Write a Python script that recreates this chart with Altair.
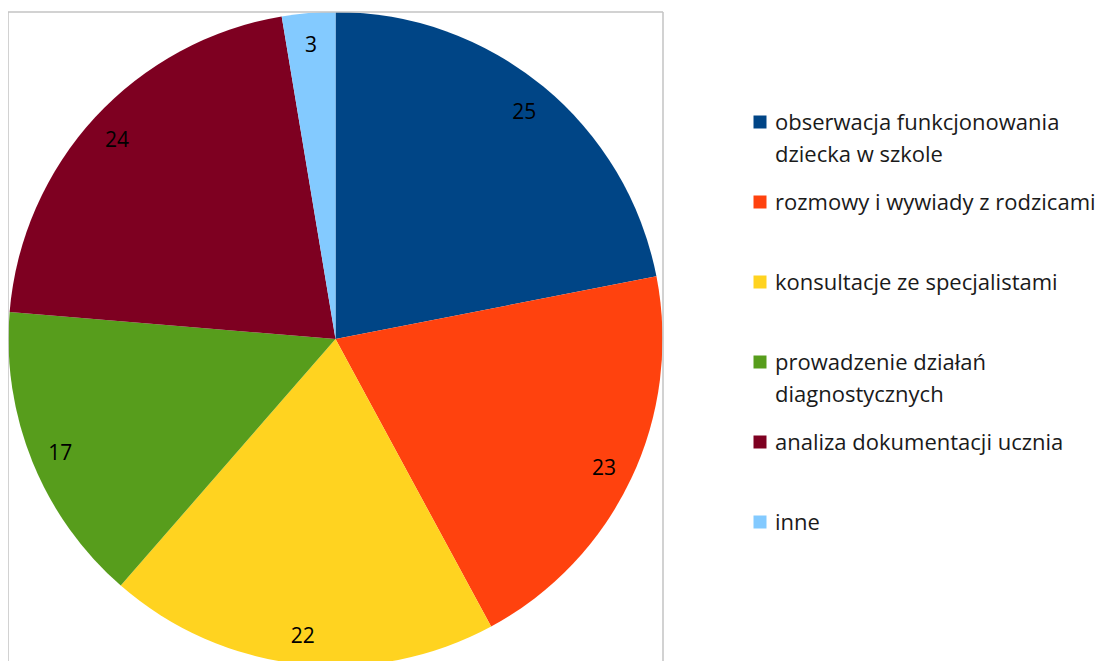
import altair as alt
import pandas as pd

categories = [
    "obserwacja funkcjonowania dziecka w szkole",
    "rozmowy i wywiady z rodzicami",
    "konsultacje ze specjalistami",
    "prowadzenie działań diagnostycznych",
    "analiza dokumentacji ucznia",
    "inne",
]
legend_lines = [
    ["obserwacja funkcjonowania", "dziecka w szkole"],
    ["rozmowy i wywiady z rodzicami"],
    ["konsultacje ze specjalistami"],
    ["prowadzenie działań", "diagnostycznych"],
    ["analiza dokumentacji ucznia"],
    ["inne"],
]
values = [25, 23, 22, 17, 24, 3]
colors = ["#004586", "#ff420e", "#ffd320", "#579d1c", "#7e0021", "#83caff"]

df = pd.DataFrame({
    "kategoria": categories,
    "wartosc": values,
    "idx": list(range(len(categories))),
    "legenda": legend_lines,
})

CX, CY, R = 327.5, 331, 327
FONT = "Open Sans"

color = alt.Color("kategoria:N", scale=alt.Scale(domain=categories, range=colors), legend=None)

base = alt.Chart(df)

pie = base.mark_arc(clip=False).encode(
    theta=alt.Theta("wartosc:Q", stack=True),
    color=color,
    order=alt.Order("idx:Q"),
    x=alt.value(CX), y=alt.value(CY),
    radius=alt.value(R),
)

labels = base.mark_text(font=FONT, fontSize=21, color="#000000", dy=3).encode(
    theta=alt.Theta("wartosc:Q", stack=True),
    order=alt.Order("idx:Q"),
    text="wartosc:Q",
    x=alt.value(CX), y=alt.value(CY),
    radius=alt.value(297),
)

frame_df = pd.DataFrame({"a": [0]})
frame_top = alt.Chart(frame_df).mark_rule(color="#c3c3c3", strokeWidth=1.5).encode(
    x=alt.value(0), x2=alt.value(655), y=alt.value(4))
frame_left = alt.Chart(frame_df).mark_rule(color="#c3c3c3", strokeWidth=1.5).encode(
    x=alt.value(0), y=alt.value(4), y2=alt.value(700))
frame_right = alt.Chart(frame_df).mark_rule(color="#c3c3c3", strokeWidth=1.5).encode(
    x=alt.value(655), y=alt.value(4), y2=alt.value(700))

ypos = alt.Y("idx:Q", scale=alt.Scale(domain=[0, 5], range=[114, 514]), axis=None)

leg_sym = base.mark_square(size=169, opacity=1).encode(
    x=alt.value(752), y=ypos, color=color)

leg_txt = base.mark_text(font=FONT, fontSize=22, align="left", baseline="alphabetic",
                         dy=8, lineHeight=32, color="#1a1a1a").encode(
    x=alt.value(767), y=ypos, text="legenda")

chart = alt.layer(pie, labels, frame_top, frame_left, frame_right, leg_sym, leg_txt).properties(
    width=1104, height=653,
    autosize=alt.AutoSizeParams(type="none"),
    padding=0,
).configure_view(stroke=None)

chart.save("out.html", embed_options={"renderer": "svg", "actions": False})
